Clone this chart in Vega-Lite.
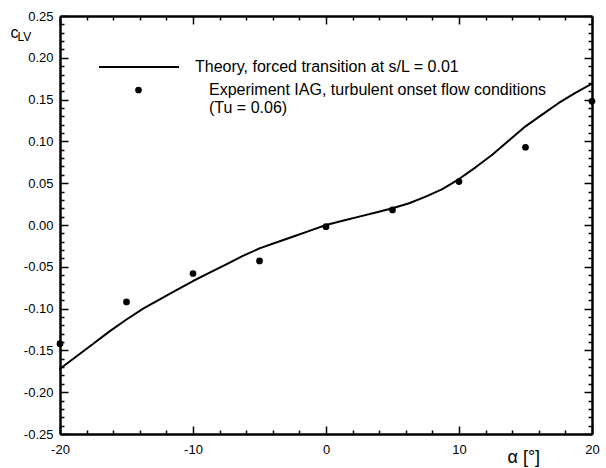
{
  "$schema": "https://vega.github.io/schema/vega-lite/v6.json",
  "width": 532,
  "height": 418,
  "autosize": "none",
  "padding": {"left": 60, "top": 16, "right": 14, "bottom": 34},
  "background": "white",
  "config": {
    "view": {"stroke": null},
    "font": "Liberation Sans",
    "locale": {"number": {"decimal": ".", "thousands": ",", "grouping": [3], "currency": ["$", ""], "minus": "-"}},
    "axis": {"grid": false, "labelFont": "Liberation Sans", "titleFont": "Liberation Sans", "labelColor": "black", "titleColor": "black", "tickColor": "black", "domainColor": "black"}
  },
  "data": {
    "values": [
      {"series": "exp", "alpha": -20, "cLV": -0.142},
      {"series": "exp", "alpha": -15, "cLV": -0.092},
      {"series": "exp", "alpha": -10, "cLV": -0.058},
      {"series": "exp", "alpha": -5, "cLV": -0.043},
      {"series": "exp", "alpha": 0, "cLV": -0.002},
      {"series": "exp", "alpha": 5, "cLV": 0.018},
      {"series": "exp", "alpha": 10, "cLV": 0.052},
      {"series": "exp", "alpha": 15, "cLV": 0.093},
      {"series": "exp", "alpha": 20, "cLV": 0.148},
      {"series": "theory", "alpha": -20, "cLV": -0.172},
      {"series": "theory", "alpha": -18.75, "cLV": -0.157},
      {"series": "theory", "alpha": -17.5, "cLV": -0.142},
      {"series": "theory", "alpha": -16.25, "cLV": -0.127},
      {"series": "theory", "alpha": -15, "cLV": -0.113},
      {"series": "theory", "alpha": -13.75, "cLV": -0.1},
      {"series": "theory", "alpha": -12.5, "cLV": -0.089},
      {"series": "theory", "alpha": -11.25, "cLV": -0.078},
      {"series": "theory", "alpha": -10, "cLV": -0.067},
      {"series": "theory", "alpha": -8.75, "cLV": -0.057},
      {"series": "theory", "alpha": -7.5, "cLV": -0.047},
      {"series": "theory", "alpha": -6.25, "cLV": -0.037},
      {"series": "theory", "alpha": -5, "cLV": -0.028},
      {"series": "theory", "alpha": -3.75, "cLV": -0.021},
      {"series": "theory", "alpha": -2.5, "cLV": -0.014},
      {"series": "theory", "alpha": -1.25, "cLV": -0.007},
      {"series": "theory", "alpha": 0, "cLV": 0},
      {"series": "theory", "alpha": 1.25, "cLV": 0.005},
      {"series": "theory", "alpha": 2.5, "cLV": 0.01},
      {"series": "theory", "alpha": 3.75, "cLV": 0.015},
      {"series": "theory", "alpha": 5, "cLV": 0.02},
      {"series": "theory", "alpha": 6.25, "cLV": 0.026},
      {"series": "theory", "alpha": 7.5, "cLV": 0.034},
      {"series": "theory", "alpha": 8.75, "cLV": 0.043},
      {"series": "theory", "alpha": 10, "cLV": 0.055},
      {"series": "theory", "alpha": 11.25, "cLV": 0.069},
      {"series": "theory", "alpha": 12.5, "cLV": 0.084},
      {"series": "theory", "alpha": 13.75, "cLV": 0.101},
      {"series": "theory", "alpha": 15, "cLV": 0.118},
      {"series": "theory", "alpha": 16.25, "cLV": 0.132},
      {"series": "theory", "alpha": 17.5, "cLV": 0.146},
      {"series": "theory", "alpha": 18.75, "cLV": 0.158},
      {"series": "theory", "alpha": 20, "cLV": 0.169}
    ]
  },
  "layer": [
    {
      "transform": [{"filter": "datum.series === 'exp'"}],
      "mark": {"type": "point", "filled": true, "size": 45, "opacity": 1},
      "encoding": {
        "x": {
          "field": "alpha", "type": "quantitative",
          "scale": {"domain": [-20, 20], "nice": false, "zero": false},
          "axis": {
            "orient": "bottom",
            "values": [-20, -18, -16, -14, -12, -10, -8, -6, -4, -2, 0, 2, 4, 6, 8, 10, 12, 14, 16, 18, 20],
            "labelExpr": "datum.value % 10 === 0 ? datum.label : ''",
            "tickSize": {"condition": {"test": "datum.value % 10 === 0", "value": -8}, "value": -4},
            "tickWidth": 1.5,
            "labelPadding": 17, "labelFontSize": 13, "labelFlush": false, "labelOverlap": false,
            "domainWidth": 2.5,
            "title": "α  [°]", "titleX": 447, "titleY": 28, "titleAlign": "left",
            "titleBaseline": "alphabetic", "titleFontSize": 18, "titleFontWeight": "normal"
          }
        },
        "y": {
          "field": "cLV", "type": "quantitative",
          "scale": {"domain": [-0.25, 0.25], "nice": false, "zero": false},
          "axis": {
            "orient": "left",
            "values": [-0.25, -0.24, -0.23, -0.22, -0.21, -0.2, -0.19, -0.18, -0.17, -0.16, -0.15, -0.14, -0.13, -0.12, -0.11, -0.1, -0.09, -0.08, -0.07, -0.06, -0.05, -0.04, -0.03, -0.02, -0.01, 0, 0.01, 0.02, 0.03, 0.04, 0.05, 0.06, 0.07, 0.08, 0.09, 0.1, 0.11, 0.12, 0.13, 0.14, 0.15, 0.16, 0.17, 0.18, 0.19, 0.2, 0.21, 0.22, 0.23, 0.24, 0.25],
            "format": ".2f",
            "labelExpr": "abs(round(datum.value * 100)) % 5 === 0 ? datum.label : ''",
            "tickSize": {"condition": {"test": "abs(round(datum.value * 100)) % 5 === 0", "value": -8}, "value": -4},
            "tickWidth": 1.5,
            "labelPadding": 15, "labelFontSize": 13, "labelFlush": false, "labelOverlap": false,
            "domainWidth": 2.5,
            "title": "c", "titleX": -46, "titleY": 21, "titleAngle": 0, "titleAlign": "center",
            "titleBaseline": "alphabetic", "titleFontSize": 16, "titleFontWeight": "normal"
          }
        },
        "color": {"value": "black"},
        "shape": {
          "datum": "Experiment IAG, turbulent onset flow conditions", "type": "nominal",
          "scale": {"range": ["circle"]},
          "legend": {
            "orient": "none", "legendX": 70.5, "legendY": 66, "title": null, "padding": 0,
            "symbolSize": 45, "symbolFillColor": "black", "symbolStrokeWidth": 0,
            "labelFont": "Liberation Sans", "labelFontSize": 16, "labelColor": "black", "labelLimit": 600, "labelOffset": 62.5,
            "labelExpr": "['Experiment IAG, turbulent onset flow conditions', '(Tu = 0.06)']",
            "encode": {"labels": {"update": {"lineHeight": {"value": 23}}}}
          }
        }
      }
    },
    {
      "transform": [{"filter": "datum.series === 'exp'"}],
      "mark": {"type": "point", "opacity": 0},
      "encoding": {
        "x": {
          "field": "alpha", "type": "quantitative",
          "axis": {
            "orient": "top",
            "values": [-20, -18, -16, -14, -12, -10, -8, -6, -4, -2, 0, 2, 4, 6, 8, 10, 12, 14, 16, 18, 20],
            "labels": false,
            "tickSize": {"condition": {"test": "datum.value % 10 === 0", "value": -8}, "value": -4},
            "tickWidth": 1.5, "domainWidth": 2.5,
            "title": "LV", "titleX": -43, "titleY": 24, "titleAlign": "left", "titleAngle": 0,
            "titleBaseline": "alphabetic", "titleFontSize": 12, "titleFontWeight": "normal"
          }
        },
        "y": {
          "field": "cLV", "type": "quantitative",
          "axis": {
            "orient": "right",
            "values": [-0.25, -0.24, -0.23, -0.22, -0.21, -0.2, -0.19, -0.18, -0.17, -0.16, -0.15, -0.14, -0.13, -0.12, -0.11, -0.1, -0.09, -0.08, -0.07, -0.06, -0.05, -0.04, -0.03, -0.02, -0.01, 0, 0.01, 0.02, 0.03, 0.04, 0.05, 0.06, 0.07, 0.08, 0.09, 0.1, 0.11, 0.12, 0.13, 0.14, 0.15, 0.16, 0.17, 0.18, 0.19, 0.2, 0.21, 0.22, 0.23, 0.24, 0.25],
            "labels": false,
            "tickSize": {"condition": {"test": "abs(round(datum.value * 100)) % 5 === 0", "value": -8}, "value": -4},
            "tickWidth": 1.5, "domainWidth": 2.5, "title": null
          }
        }
      }
    },
    {
      "transform": [{"filter": "datum.series === 'theory'"}],
      "mark": {"type": "trail", "size": 2},
      "encoding": {
        "x": {"field": "alpha", "type": "quantitative", "axis": null},
        "y": {"field": "cLV", "type": "quantitative", "axis": null},
        "order": {"field": "alpha", "type": "quantitative"},
        "color": {
          "datum": "Theory, forced transition at s/L = 0.01", "type": "nominal",
          "scale": {"range": ["black"]},
          "legend": {
            "orient": "none", "legendX": 38, "legendY": 10, "title": null, "padding": 0,
            "symbolType": "stroke", "symbolSize": 6400, "symbolStrokeWidth": 2, "symbolStrokeColor": "black",
            "labelFont": "Liberation Sans", "labelFontSize": 16, "labelColor": "black", "labelLimit": 600, "labelOffset": 15
          }
        }
      }
    }
  ],
  "resolve": {"axis": {"x": "independent", "y": "independent"}}
}
